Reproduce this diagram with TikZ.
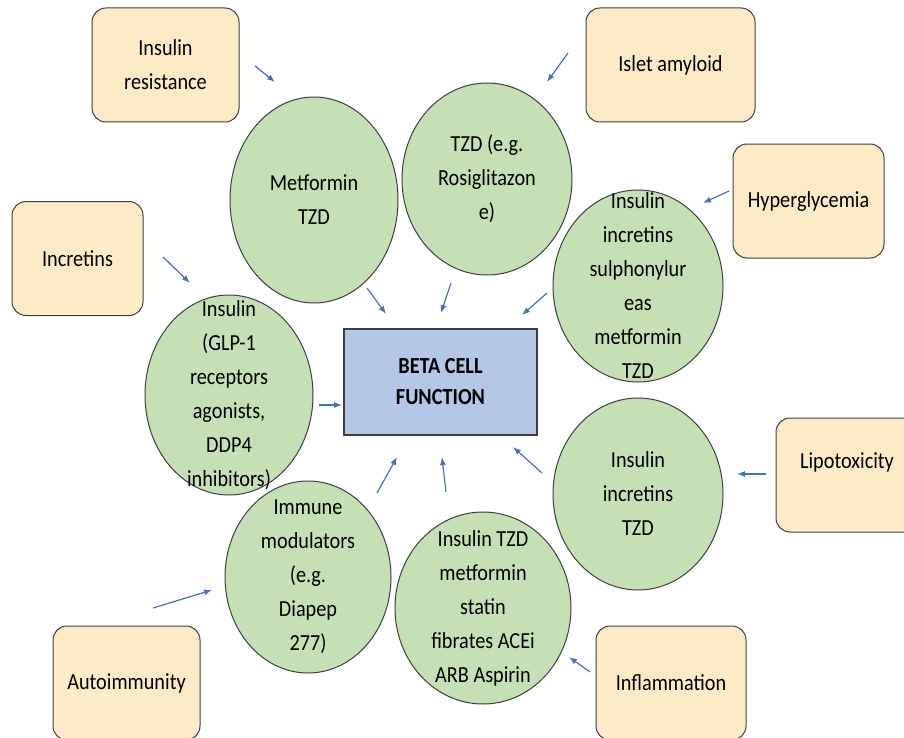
\documentclass[tikz,border=0pt]{standalone}
\usepackage{fontspec}
\setmainfont{Carlito}[FakeStretch=0.88]
\usetikzlibrary{shapes.geometric,arrows.meta}
\definecolor{causefill}{HTML}{FDEBC6}
\definecolor{drugfill}{HTML}{C5E0B4}
\definecolor{betafill}{HTML}{B4C7E7}
\definecolor{flowblue}{HTML}{4472C4}
\definecolor{edge}{HTML}{3F3F3F}
\begin{document}
\begin{tikzpicture}[x=0.5pt,y=-0.5pt,
  every node/.style={font=\fontsize{11.5}{17}\selectfont,align=center,inner sep=0pt},
  cause/.style={draw=edge,line width=0.5pt,fill=causefill,rounded corners=7pt,
    minimum height=57pt},
  drug/.style={ellipse,draw=edge,line width=0.5pt,fill=drugfill},
  flow/.style={draw=flowblue,line width=0.6pt,-{Latex[length=4pt,width=3pt]}}]
\clip (0,0) rectangle (904,738);
\fill[white] (0,0) rectangle (904,738);
% causes
\node[cause,minimum width=73.5pt] (res) at (165.5,65) {Insulin\\resistance};
\node[cause,minimum width=84.5pt] (amy) at (670.5,65) {Islet amyloid};
\node[cause,minimum width=75.5pt] (hyp) at (808.5,201) {Hyperglycemia};
\node[cause,minimum width=65.5pt] (inc) at (77.5,258.5) {Incretins};
\node[cause,minimum width=71pt] (lipo) at (847,475) {\raisebox{3.2pt}[0pt][0pt]{Lipotoxicity}};
\node[cause,minimum width=73.5pt] (auto) at (126.5,683) {Autoimmunity};
\node[cause,minimum width=75pt] (infl) at (671,683) {Inflammation};
% centre
\node[draw=edge,line width=0.6pt,fill=betafill,minimum width=96.5pt,minimum height=53pt,
  font=\fontsize{11.5}{15.5}\selectfont\bfseries] (beta) at (440.5,382) {BETA CELL\\FUNCTION};
% drugs
\node[drug,minimum width=84pt,minimum height=103pt,
  label={center:Metformin\\TZD}] (met) at (314,200) {};
\node[drug,minimum width=85pt,minimum height=96pt,
  label={center:TZD (e.g.\\Rosiglitazon\\e)}] (tzd) at (487,179) {};
\node[drug,minimum width=85pt,minimum height=96pt,
  label={center:Insulin\\incretins\\sulphonylur\\eas\\metformin\\TZD}] (sulf) at (638,286) {};
\node[drug,minimum width=84pt,minimum height=100pt,
  label={center:Insulin\\(GLP-1\\receptors\\agonists,\\DDP4\\inhibitors)}] (glp) at (229,395) {};
\node[drug,minimum width=85pt,minimum height=96pt,
  label={center:Insulin\\incretins\\TZD}] (intzd) at (638,494) {};
\node[drug,minimum width=83pt,minimum height=96pt,
  label={center:Immune\\modulators\\(e.g.\\Diapep\\277)}] (imm) at (308,577) {};
\node[drug,minimum width=88pt,minimum height=96pt,
  label={center:Insulin TZD\\metformin\\statin\\fibrates ACEi\\ARB Aspirin}] (stat) at (483,608) {};
% arrow ends
\path (255,66) coordinate (res-out) (275,82) coordinate (met-in)
      (568,53) coordinate (amy-out) (547,82) coordinate (tzd-in)
      (729,191) coordinate (hyp-out) (703,203) coordinate (sulf-in)
      (163,257) coordinate (inc-out) (190,283) coordinate (glp-in)
      (766,474) coordinate (lipo-out) (737,474) coordinate (intzd-in)
      (153,608) coordinate (auto-out) (212,590) coordinate (imm-in)
      (590,672) coordinate (infl-out) (569,657) coordinate (stat-in);
\path (367,288) coordinate (met-out) (386,314) coordinate (beta-a)
      (451,283) coordinate (tzd-out) (441,313) coordinate (beta-b)
      (547,293) coordinate (sulf-out) (522,315) coordinate (beta-c)
      (319,405) coordinate (glp-out) (342,405) coordinate (beta-d)
      (377,493) coordinate (imm-out) (397,457) coordinate (beta-e)
      (446,492) coordinate (stat-out) (442,457) coordinate (beta-f)
      (542,473) coordinate (intzd-out) (513,447) coordinate (beta-g);
% causes to drugs
\draw[flow] (res-out) -- (met-in);
\draw[flow] (amy-out) -- (tzd-in);
\draw[flow] (hyp-out) -- (sulf-in);
\draw[flow] (inc-out) -- (glp-in);
\draw[flow] (lipo-out) -- (intzd-in);
\draw[flow] (auto-out) -- (imm-in);
\draw[flow] (infl-out) -- (stat-in);
% drugs to beta cell
\draw[flow] (met-out) -- (beta-a);
\draw[flow] (tzd-out) -- (beta-b);
\draw[flow] (sulf-out) -- (beta-c);
\draw[flow] (glp-out) -- (beta-d);
\draw[flow] (imm-out) -- (beta-e);
\draw[flow] (stat-out) -- (beta-f);
\draw[flow] (intzd-out) -- (beta-g);
\end{tikzpicture}
\end{document}
